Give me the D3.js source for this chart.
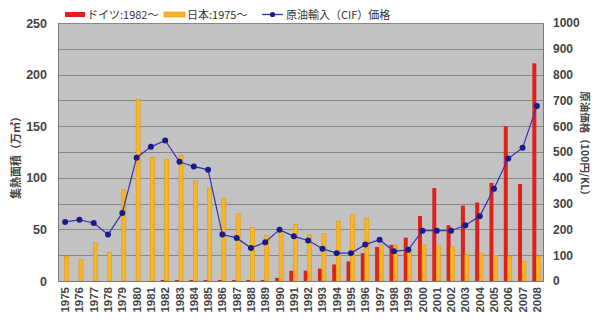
<!DOCTYPE html>
<html><head><meta charset="utf-8">
<script src="https://cdn.jsdelivr.net/npm/d3@7"></script>
<style>body{margin:0;background:#fff}svg{display:block}</style>
</head><body>
<svg id="c" width="600" height="326"></svg>
<script>
const years = ["1975","1976","1977","1978","1979","1980","1981","1982","1983","1984","1985","1986","1987","1988","1989","1990","1991","1992","1993","1994","1995","1996","1997","1998","1999","2000","2001","2002","2003","2004","2005","2006","2007","2008"];
const germany = [0,0,0,0,0,0,0,1,1,1,1,1,1,1,1,3,10,10,12,16,19,27,33,35,42,63,90,54,73,76,95,150,94,211];
const japan = [24,21,37,28,89,176,120,118,122,97,90,80,65,52,44,48,55,45,46,58,64,61,35,35,33,35,34,33,26,27,25,24,19,24];
const oil = [229,237,225,180,264,478,520,545,462,444,431,180,167,128,150,199,173,157,125,108,108,141,160,115,121,195,195,195,216,251,358,475,516,678];
const leftTicks = [0,50,100,150,200,250];
const rightTicks = [0,100,200,300,400,500,600,700,800,900,1000];
const legendLabels = ["ドイツ:1982～","日本:1975～","原油輸入（CIF）価格"];
const leftTitle = "集熱面積（万㎡）";
const rightTitle = "原油価格（100円/KL）";

const svg = d3.select("#c");
const L=58,R=544,T=23,B=281;
const font = "'Liberation Sans', Arial, 'Noto Sans CJK JP', sans-serif";
const jfont = "'Noto Sans CJK JP', sans-serif";
const x = d3.scaleBand().domain(years).range([L,R]);
const yl = d3.scaleLinear().domain([0,250]).range([B,T]);
const yr = d3.scaleLinear().domain([0,1000]).range([B,T]);
const RED="#e0201b", ORG="#f7b52a", ORGS="#e59a00", LINE="#3434b0", MK="#1a1a88";

svg.append("rect").attr("x",L).attr("y",T).attr("width",R-L).attr("height",B-T).attr("fill","#c2c2c2");
svg.append("g").selectAll("line").data(rightTicks.slice(1)).join("line")
  .attr("x1",L).attr("x2",R).attr("y1",d=>Math.round(yr(d))+0.5).attr("y2",d=>Math.round(yr(d))+0.5)
  .attr("stroke","#888").attr("stroke-width",1.2);

const bw = 4;
const bx = d => x(d)+x.bandwidth()/2;
svg.append("g").selectAll("rect").data(years).join("rect")
  .attr("x",(d)=>bx(d)-bw-0.5).attr("width",bw)
  .attr("y",(d,i)=>yl(germany[i])).attr("height",(d,i)=>B-yl(germany[i]))
  .attr("fill",RED);
svg.append("g").selectAll("rect").data(years).join("rect")
  .attr("x",(d)=>bx(d)-0.5).attr("width",bw)
  .attr("y",(d,i)=>yl(japan[i])).attr("height",(d,i)=>B-yl(japan[i]))
  .attr("fill",ORG).attr("stroke",ORGS).attr("stroke-width",0.6);

const line = d3.line().x((d,i)=>bx(years[i])).y(d=>yr(d));
svg.append("path").datum(oil).attr("d",line).attr("fill","none").attr("stroke",LINE).attr("stroke-width",1.2);
svg.append("g").selectAll("circle").data(oil).join("circle")
  .attr("cx",(d,i)=>bx(years[i])).attr("cy",d=>yr(d)).attr("r",3).attr("fill",MK);

// axes frame
svg.append("line").attr("x1",L+0.5).attr("x2",L+0.5).attr("y1",T).attr("y2",B).attr("stroke","#777");
svg.append("line").attr("x1",R-0.5).attr("x2",R-0.5).attr("y1",T).attr("y2",B).attr("stroke","#777");
svg.append("line").attr("x1",L).attr("x2",R).attr("y1",B+0.5).attr("y2",B+0.5).attr("stroke","#777");

const la = d3.axisLeft(yl).tickValues(leftTicks).tickSize(0).tickPadding(11);
svg.append("g").attr("transform",`translate(${L},0)`).call(la).call(g=>g.select(".domain").remove())
  .selectAll("text").attr("font-family",font).attr("font-size",12.5).attr("font-weight","bold").attr("fill","#444");
const ra = d3.axisRight(yr).tickValues(rightTicks).tickFormat(d3.format("d")).tickSize(0).tickPadding(9);
svg.append("g").attr("transform",`translate(${R},0)`).call(ra).call(g=>g.select(".domain").remove())
  .selectAll("text").attr("font-family",font).attr("font-size",12).attr("font-weight","bold").attr("fill","#444");
const xa = d3.axisBottom(x).tickSize(0).tickPadding(0);
svg.append("g").attr("transform",`translate(0,${B})`).call(xa).call(g=>g.select(".domain").remove())
  .selectAll("text").attr("font-family",font).attr("font-size",11.5).attr("font-weight","bold").attr("fill","#444")
  .attr("text-anchor","end").attr("dy",null).attr("y",0)
  .attr("transform","translate(4,6) rotate(-90)");

svg.append("text").attr("transform","translate(20,155) rotate(-90)").attr("text-anchor","middle")
  .attr("font-family",jfont).attr("font-size",11).attr("font-weight","bold").attr("fill","#444").text(leftTitle);
svg.append("text").attr("transform","translate(581,146) rotate(90)").attr("text-anchor","middle")
  .attr("font-family",jfont).attr("font-size",10.5).attr("font-weight","bold").attr("fill","#444").text(rightTitle);

// legend
const lg = svg.append("g").attr("font-family",jfont).attr("font-size",11).attr("fill","#333");
lg.append("rect").attr("x",65).attr("y",12).attr("width",20).attr("height",5).attr("fill",RED);
lg.append("text").attr("x",87).attr("y",18.5).text(legendLabels[0]);
lg.append("rect").attr("x",164).attr("y",12).attr("width",21).attr("height",5).attr("fill",ORG).attr("stroke",ORGS).attr("stroke-width",0.6);
lg.append("text").attr("x",187).attr("y",18.5).text(legendLabels[1]);
lg.append("line").attr("x1",262).attr("x2",283).attr("y1",14.5).attr("y2",14.5).attr("stroke",LINE).attr("stroke-width",1.3);
lg.append("circle").attr("cx",272.5).attr("cy",14.5).attr("r",2.6).attr("fill",MK);
lg.append("text").attr("x",286).attr("y",18.5).text(legendLabels[2]);
</script>
</body></html>
